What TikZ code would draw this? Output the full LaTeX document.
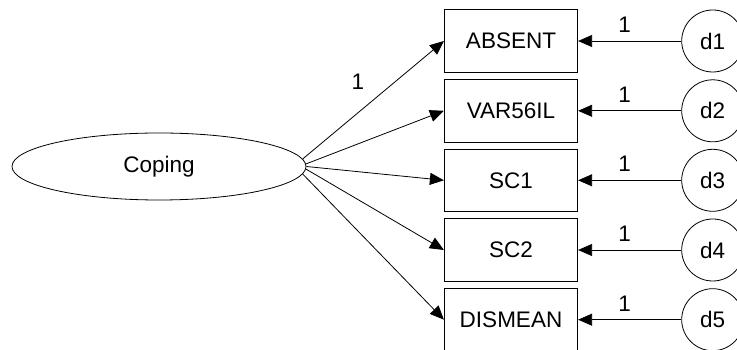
\documentclass[tikz,border=0pt]{standalone}
\usepackage{fontspec}
\setmainfont{Liberation Sans}
\usetikzlibrary{arrows.meta,shapes.geometric}
\begin{document}
\begin{tikzpicture}[x=1pt,y=1pt,
  every node/.style={font=\fontsize{22.5}{27}\selectfont},
  obsbox/.style={draw,line width=0.8pt,minimum width=133.4pt,minimum height=62.5pt,inner sep=0pt},
  errcirc/.style={draw,circle,line width=0.8pt,minimum size=62pt,inner sep=0pt},
  latent/.style={draw,ellipse,line width=0.8pt,minimum width=294pt,minimum height=67pt,inner sep=0pt},
  path/.style={line width=0.8pt,-{Triangle[length=14pt,width=12pt]}},
  weight/.style={inner sep=0pt}]
\useasboundingbox (0,0) rectangle (737,350);

% latent factor
\node[latent] (cop) at (159,183.5) {Coping};

% observed indicators
\node[obsbox] (v1) at (511,309.0) {ABSENT};
\node[obsbox] (v2) at (511,239.2) {VAR56IL};
\node[obsbox] (v3) at (511,169.7) {SC1};
\node[obsbox] (v4) at (511,100.0) {SC2};
\node[obsbox] (v5) at (511,30.3) {DISMEAN};

% error terms
\node[errcirc] (d1) at (712.7,309.0) {d1};
\node[errcirc] (d2) at (712.7,239.2) {d2};
\node[errcirc] (d3) at (712.7,169.7) {d3};
\node[errcirc] (d4) at (712.7,100.0) {d4};
\node[errcirc] (d5) at (712.7,30.3) {d5};

% loadings
\draw[path] (cop.3) -- (v1.west);
\draw[path] (cop.1.5) -- (v2.west);
\draw[path] (cop.0) -- (v3.west);
\draw[path] (cop.-1.5) -- (v4.west);
\draw[path] (cop.-3) -- (v5.west);
\node[weight] (w0) at (358,268) {1};

% error paths with fixed weights
\foreach \i in {1,...,5}{
  \draw[path] (d\i) -- (v\i.east)
    node[weight,pos=0.55,above=8pt] (w\i) {1};
}
\end{tikzpicture}
\end{document}
